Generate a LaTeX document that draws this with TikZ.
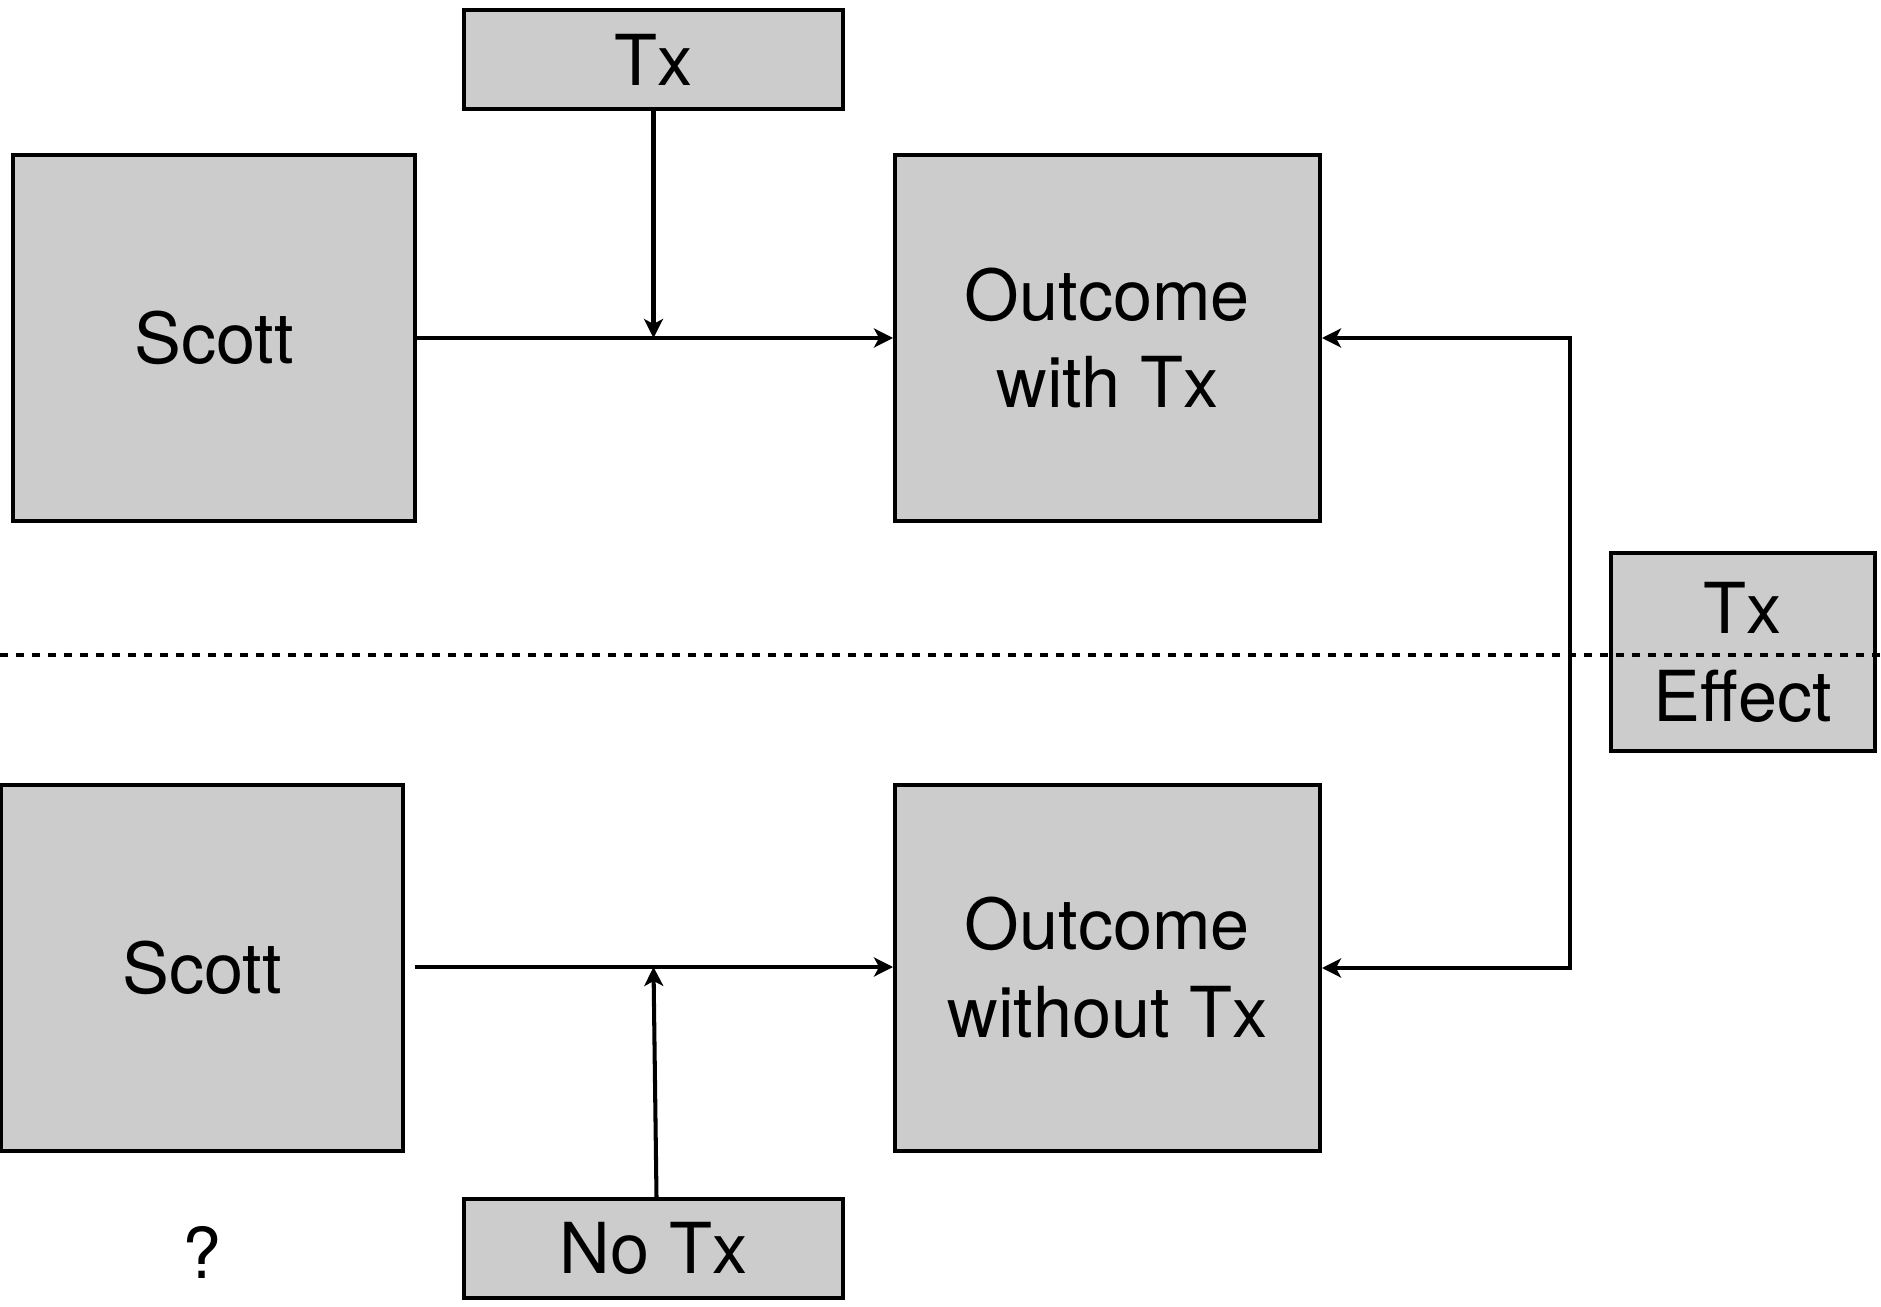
\documentclass[tikz,border=0pt]{standalone}
\usepackage{fontspec}
\setmainfont{TeX Gyre Heros}
\usepackage{tikz}
\usetikzlibrary{positioning, arrows.meta}
\definecolor{boxgray}{RGB}{204,204,204}

\begin{document}
\begin{tikzpicture}[x=0.02cm, y=-0.02cm,
  box/.style={rectangle, draw=black, fill=boxgray, line width=2.3pt, inner sep=0pt, align=center, font=\fontsize{40}{50}\selectfont},
  arr/.style={line width=2.3pt, -{Stealth[length=0.38cm, width=0.38cm, inset=0.1cm]}}]

\useasboundingbox (0,0) rectangle (1881,1307);

% top row - with treatment
\node[box, minimum width=7.58cm, minimum height=1.98cm] (tx) at (653.5,59.5) {Tx};
\node[box, minimum width=8.04cm, minimum height=7.32cm] (scotta) at (214,338) {Scott};
\node[box, minimum width=8.5cm, minimum height=7.32cm] (withtx) at (1107.5,338) {Outcome\\with Tx};

% bottom row - without treatment
\node[box, minimum width=8.04cm, minimum height=7.32cm] (scottb) at (202,968) {Scott};
\node[box, minimum width=8.5cm, minimum height=7.32cm] (notxout) at (1107.5,968) {Outcome\\without Tx};
\node[box, minimum width=7.58cm, minimum height=1.98cm] (notx) at (653.5,1248.5) {No Tx};
\node[font=\fontsize{40}{50}\selectfont] (ask) at (202,1252) {?};

% effect box
\node[box, minimum width=5.28cm, minimum height=3.96cm] (effect) at (1743,652) {Tx\\Effect};

\coordinate (startb) at (415,967);
\coordinate (rail) at (1570,652);
\coordinate (dashl) at (0,655);
\coordinate (dashr) at (1881,655);

% arrows
\draw[arr] (scotta.east) -- (withtx.west);
\draw[arr] (tx.south) -- (tx.south |- scotta.east);
\draw[arr] (startb) -- (startb -| notxout.west);
\draw[arr] ([xshift=0.06cm]notx.north) -- (notx.north |- startb);
\draw[arr, {Stealth[length=0.38cm, width=0.38cm, inset=0.1cm]}-{Stealth[length=0.38cm, width=0.38cm, inset=0.1cm]}] (withtx.east) -| (rail) |- (notxout.east);

% divider
\draw[line width=2.3pt, dash pattern=on 0.16cm off 0.16cm] (dashl) -- (dashr);

\end{tikzpicture}
\end{document}
